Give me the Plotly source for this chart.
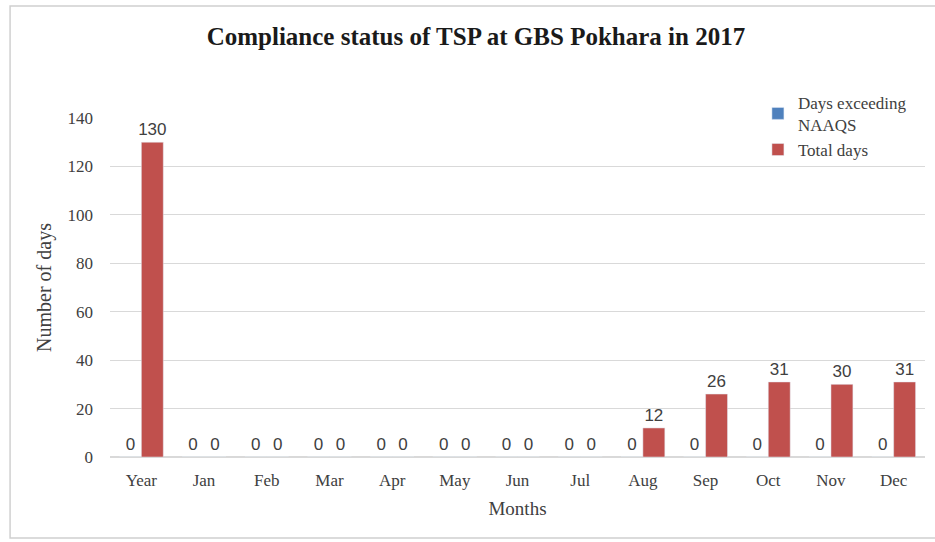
import plotly.graph_objects as go

categories = ["Year", "Jan", "Feb", "Mar", "Apr", "May", "Jun", "Jul", "Aug", "Sep", "Oct", "Nov", "Dec"]
days_exceeding = [0, 0, 0, 0, 0, 0, 0, 0, 0, 0, 0, 0, 0]
total_days = [130, 0, 0, 0, 0, 0, 0, 0, 12, 26, 31, 30, 31]
y_ticks = [0, 20, 40, 60, 80, 100, 120, 140]

serif = "Liberation Serif, DejaVu Serif, serif"
label_font = dict(family="Liberation Sans, Arial, sans-serif", size=17, color="#404040")

fig = go.Figure()
fig.add_trace(go.Bar(
    x=categories, y=days_exceeding, name="Days exceeding<br>NAAQS",
    marker_color="#4F81BD", text=days_exceeding, textposition="outside",
    textfont=label_font, cliponaxis=False, constraintext="none",
))
fig.add_trace(go.Bar(
    x=categories, y=total_days, name="Total days",
    marker_color="#C0504D", text=total_days, textposition="outside",
    textfont=label_font, cliponaxis=False, constraintext="none",
))

fig.update_layout(
    width=935, height=542,
    paper_bgcolor="white", plot_bgcolor="white",
    margin=dict(l=110, r=9.5, t=118, b=85),
    barmode="group", bargap=0.3, bargroupgap=0.0,
    title=dict(text="<b>Compliance status of TSP at GBS Pokhara in 2017</b>",
               x=0.509, xanchor="center", y=0.934, yanchor="middle",
               font=dict(family=serif, size=25, color="#1a1a1a")),
    font=dict(family=serif, size=17, color="#404040"),
    legend=dict(x=0.795, y=1.098, xanchor="left", yanchor="top",
                font=dict(family=serif, size=17, color="#404040"),
                bgcolor="rgba(0,0,0,0)", itemwidth=30),
    showlegend=True,
    xaxis=dict(title=dict(text="Months", font=dict(family=serif, size=19, color="#404040"), standoff=12),
               showline=True, linecolor="#D9D9D9", ticks="", ticklabelstandoff=8,
               tickfont=dict(family=serif, size=17, color="#404040")),
    yaxis=dict(title=dict(text="Number of days", font=dict(family=serif, size=20, color="#404040"), standoff=10),
               range=[0, 140], tickvals=y_ticks, showgrid=True, gridcolor="#D9D9D9",
               zeroline=True, zerolinecolor="#D9D9D9", ticks="", ticklabelstandoff=16,
               tickfont=dict(family=serif, size=17, color="#404040")),
    shapes=[dict(type="rect", xref="paper", yref="paper",
                 x0=-0.1226, x1=1.03, y0=-0.239, y1=1.3304,
                 line=dict(color="#D0D0D0", width=1.5), fillcolor="rgba(0,0,0,0)")],
)

fig.write_html("out.html", config={"displayModeBar": False},
               post_script="document.body.style.margin='0';")
